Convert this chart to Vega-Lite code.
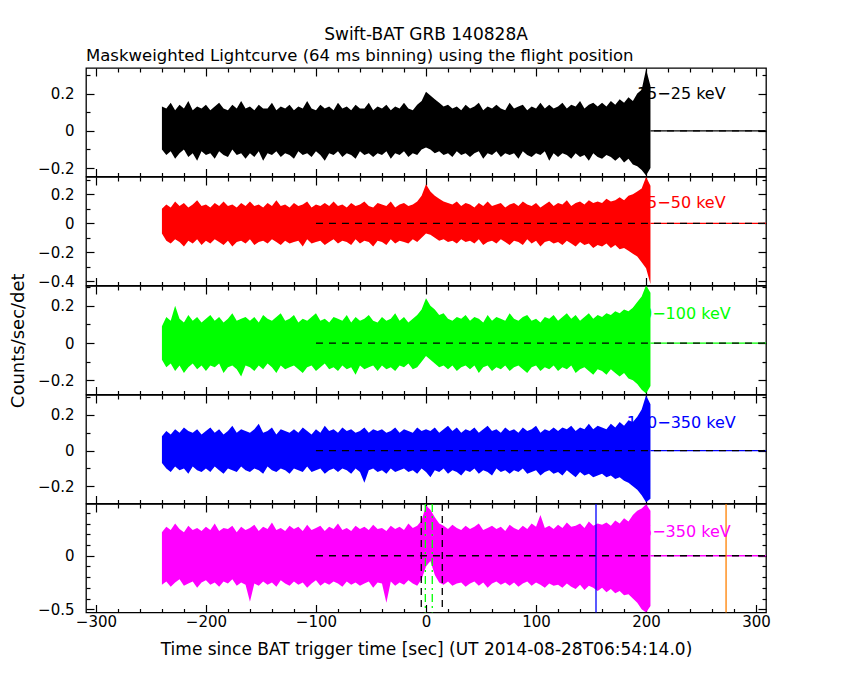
{
  "$schema": "https://vega.github.io/schema/vega-lite/v6.json",
  "background": "white",
  "padding": {"left": 8, "top": 26, "right": 10, "bottom": 10},
  "title": {"text": "Swift-BAT GRB 140828A", "anchor": "middle", "frame": "group", "offset": 3, "fontSize": 17},
  "config": {
    "font": "DejaVu Sans",
    "view": {"stroke": "black", "strokeWidth": 1.3},
    "axis": {"domain": false, "grid": false, "tickColor": "black", "tickWidth": 1.2, "labelColor": "black", "labelFont": "DejaVu Sans", "labelFontSize": 15, "labelFlush": false, "labelOverlap": false, "labelPadding": 20, "titleColor": "black", "titleFont": "DejaVu Sans", "titleFontSize": 18, "titleFontWeight": "normal", "titlePadding": 10},
    "axisX": {"labelPadding": 10},
    "title": {"font": "DejaVu Sans", "fontSize": 16.5, "fontWeight": "normal", "color": "black"},
    "text": {"font": "DejaVu Sans"}
  },
  "datasets": {
    "lc": [
      {"t":-240,"h1":0.13,"l1":-0.1,"h2":0.1,"l2":-0.07,"h3":0.09,"l3":-0.09,"h4":0.08,"l4":-0.07,"h5":0.22,"l5":-0.27},
      {"t":-236,"h1":0.12,"l1":-0.13,"h2":0.13,"l2":-0.12,"h3":0.14,"l3":-0.13,"h4":0.11,"l4":-0.1,"h5":0.27,"l5":-0.24},
      {"t":-232,"h1":0.15,"l1":-0.11,"h2":0.11,"l2":-0.14,"h3":0.12,"l3":-0.11,"h4":0.09,"l4":-0.12,"h5":0.24,"l5":-0.29},
      {"t":-228,"h1":0.11,"l1":-0.15,"h2":0.15,"l2":-0.11,"h3":0.2,"l3":-0.15,"h4":0.12,"l4":-0.09,"h5":0.3,"l5":-0.25},
      {"t":-224,"h1":0.14,"l1":-0.12,"h2":0.12,"l2":-0.13,"h3":0.13,"l3":-0.12,"h4":0.1,"l4":-0.11,"h5":0.25,"l5":-0.22},
      {"t":-220,"h1":0.12,"l1":-0.1,"h2":0.14,"l2":-0.16,"h3":0.11,"l3":-0.16,"h4":0.13,"l4":-0.1,"h5":0.22,"l5":-0.28},
      {"t":-216,"h1":0.16,"l1":-0.14,"h2":0.11,"l2":-0.12,"h3":0.15,"l3":-0.13,"h4":0.11,"l4":-0.13,"h5":0.28,"l5":-0.26},
      {"t":-212,"h1":0.11,"l1":-0.12,"h2":0.13,"l2":-0.14,"h3":0.12,"l3":-0.11,"h4":0.1,"l4":-0.09,"h5":0.24,"l5":-0.24},
      {"t":-208,"h1":0.13,"l1":-0.16,"h2":0.16,"l2":-0.11,"h3":0.14,"l3":-0.14,"h4":0.12,"l4":-0.11,"h5":0.26,"l5":-0.3},
      {"t":-204,"h1":0.12,"l1":-0.11,"h2":0.12,"l2":-0.15,"h3":0.11,"l3":-0.12,"h4":0.09,"l4":-0.12,"h5":0.23,"l5":-0.25},
      {"t":-200,"h1":0.14,"l1":-0.13,"h2":0.13,"l2":-0.12,"h3":0.13,"l3":-0.15,"h4":0.11,"l4":-0.1,"h5":0.27,"l5":-0.23},
      {"t":-196,"h1":0.11,"l1":-0.12,"h2":0.11,"l2":-0.14,"h3":0.15,"l3":-0.12,"h4":0.13,"l4":-0.12,"h5":0.24,"l5":-0.27},
      {"t":-192,"h1":0.13,"l1":-0.15,"h2":0.14,"l2":-0.11,"h3":0.12,"l3":-0.13,"h4":0.1,"l4":-0.09,"h5":0.3,"l5":-0.25},
      {"t":-188,"h1":0.15,"l1":-0.11,"h2":0.12,"l2":-0.13,"h3":0.14,"l3":-0.11,"h4":0.12,"l4":-0.11,"h5":0.23,"l5":-0.29},
      {"t":-184,"h1":0.12,"l1":-0.13,"h2":0.15,"l2":-0.15,"h3":0.11,"l3":-0.16,"h4":0.09,"l4":-0.13,"h5":0.26,"l5":-0.24},
      {"t":-180,"h1":0.11,"l1":-0.14,"h2":0.12,"l2":-0.12,"h3":0.13,"l3":-0.13,"h4":0.11,"l4":-0.1,"h5":0.25,"l5":-0.26},
      {"t":-176,"h1":0.14,"l1":-0.1,"h2":0.13,"l2":-0.16,"h3":0.16,"l3":-0.12,"h4":0.14,"l4":-0.11,"h5":0.28,"l5":-0.22},
      {"t":-172,"h1":0.12,"l1":-0.13,"h2":0.11,"l2":-0.13,"h3":0.12,"l3":-0.14,"h4":0.1,"l4":-0.12,"h5":0.22,"l5":-0.28},
      {"t":-168,"h1":0.16,"l1":-0.12,"h2":0.14,"l2":-0.12,"h3":0.13,"l3":-0.18,"h4":0.12,"l4":-0.09,"h5":0.27,"l5":-0.25},
      {"t":-164,"h1":0.12,"l1":-0.15,"h2":0.12,"l2":-0.14,"h3":0.14,"l3":-0.12,"h4":0.11,"l4":-0.11,"h5":0.24,"l5":-0.27},
      {"t":-160,"h1":0.13,"l1":-0.12,"h2":0.15,"l2":-0.11,"h3":0.12,"l3":-0.13,"h4":0.1,"l4":-0.12,"h5":0.26,"l5":-0.43},
      {"t":-156,"h1":0.11,"l1":-0.14,"h2":0.12,"l2":-0.15,"h3":0.14,"l3":-0.15,"h4":0.12,"l4":-0.1,"h5":0.29,"l5":-0.26},
      {"t":-152,"h1":0.14,"l1":-0.11,"h2":0.13,"l2":-0.13,"h3":0.11,"l3":-0.12,"h4":0.15,"l4":-0.11,"h5":0.23,"l5":-0.28},
      {"t":-148,"h1":0.12,"l1":-0.16,"h2":0.11,"l2":-0.12,"h3":0.15,"l3":-0.14,"h4":0.1,"l4":-0.13,"h5":0.27,"l5":-0.24},
      {"t":-144,"h1":0.12,"l1":-0.12,"h2":0.14,"l2":-0.14,"h3":0.13,"l3":-0.11,"h4":0.11,"l4":-0.09,"h5":0.25,"l5":-0.27},
      {"t":-140,"h1":0.15,"l1":-0.13,"h2":0.12,"l2":-0.11,"h3":0.12,"l3":-0.13,"h4":0.13,"l4":-0.11,"h5":0.31,"l5":-0.25},
      {"t":-136,"h1":0.11,"l1":-0.11,"h2":0.16,"l2":-0.13,"h3":0.14,"l3":-0.16,"h4":0.09,"l4":-0.12,"h5":0.24,"l5":-0.29},
      {"t":-132,"h1":0.13,"l1":-0.14,"h2":0.12,"l2":-0.15,"h3":0.16,"l3":-0.12,"h4":0.12,"l4":-0.1,"h5":0.26,"l5":-0.23},
      {"t":-128,"h1":0.12,"l1":-0.12,"h2":0.13,"l2":-0.12,"h3":0.12,"l3":-0.14,"h4":0.11,"l4":-0.11,"h5":0.23,"l5":-0.26},
      {"t":-124,"h1":0.14,"l1":-0.13,"h2":0.11,"l2":-0.14,"h3":0.13,"l3":-0.13,"h4":0.1,"l4":-0.13,"h5":0.28,"l5":-0.28},
      {"t":-120,"h1":0.11,"l1":-0.15,"h2":0.14,"l2":-0.13,"h3":0.15,"l3":-0.12,"h4":0.12,"l4":-0.1,"h5":0.25,"l5":-0.24},
      {"t":-116,"h1":0.13,"l1":-0.11,"h2":0.12,"l2":-0.12,"h3":0.11,"l3":-0.14,"h4":0.1,"l4":-0.11,"h5":0.27,"l5":-0.27},
      {"t":-112,"h1":0.12,"l1":-0.13,"h2":0.13,"l2":-0.16,"h3":0.13,"l3":-0.16,"h4":0.13,"l4":-0.12,"h5":0.23,"l5":-0.25},
      {"t":-108,"h1":0.16,"l1":-0.12,"h2":0.15,"l2":-0.11,"h3":0.12,"l3":-0.13,"h4":0.11,"l4":-0.09,"h5":0.29,"l5":-0.3},
      {"t":-104,"h1":0.12,"l1":-0.14,"h2":0.11,"l2":-0.14,"h3":0.14,"l3":-0.12,"h4":0.09,"l4":-0.12,"h5":0.24,"l5":-0.26},
      {"t":-100,"h1":0.11,"l1":-0.11,"h2":0.13,"l2":-0.13,"h3":0.16,"l3":-0.15,"h4":0.12,"l4":-0.11,"h5":0.26,"l5":-0.23},
      {"t":-96,"h1":0.14,"l1":-0.13,"h2":0.12,"l2":-0.12,"h3":0.12,"l3":-0.13,"h4":0.1,"l4":-0.1,"h5":0.28,"l5":-0.28},
      {"t":-92,"h1":0.12,"l1":-0.16,"h2":0.14,"l2":-0.15,"h3":0.13,"l3":-0.11,"h4":0.14,"l4":-0.13,"h5":0.23,"l5":-0.25},
      {"t":-88,"h1":0.13,"l1":-0.12,"h2":0.12,"l2":-0.13,"h3":0.11,"l3":-0.14,"h4":0.11,"l4":-0.11,"h5":0.27,"l5":-0.27},
      {"t":-84,"h1":0.11,"l1":-0.13,"h2":0.15,"l2":-0.11,"h3":0.14,"l3":-0.13,"h4":0.12,"l4":-0.1,"h5":0.25,"l5":-0.24},
      {"t":-80,"h1":0.15,"l1":-0.11,"h2":0.12,"l2":-0.14,"h3":0.13,"l3":-0.15,"h4":0.1,"l4":-0.12,"h5":0.3,"l5":-0.26},
      {"t":-76,"h1":0.12,"l1":-0.14,"h2":0.13,"l2":-0.12,"h3":0.12,"l3":-0.12,"h4":0.13,"l4":-0.1,"h5":0.24,"l5":-0.29},
      {"t":-72,"h1":0.13,"l1":-0.12,"h2":0.11,"l2":-0.13,"h3":0.15,"l3":-0.14,"h4":0.11,"l4":-0.11,"h5":0.26,"l5":-0.24},
      {"t":-68,"h1":0.11,"l1":-0.13,"h2":0.14,"l2":-0.15,"h3":0.11,"l3":-0.13,"h4":0.12,"l4":-0.13,"h5":0.23,"l5":-0.27},
      {"t":-64,"h1":0.14,"l1":-0.15,"h2":0.12,"l2":-0.11,"h3":0.14,"l3":-0.17,"h4":0.1,"l4":-0.1,"h5":0.28,"l5":-0.25},
      {"t":-60,"h1":0.12,"l1":-0.11,"h2":0.13,"l2":-0.14,"h3":0.12,"l3":-0.12,"h4":0.11,"l4":-0.12,"h5":0.25,"l5":-0.28},
      {"t":-56,"h1":0.12,"l1":-0.13,"h2":0.15,"l2":-0.12,"h3":0.13,"l3":-0.14,"h4":0.13,"l4":-0.18,"h5":0.27,"l5":-0.26},
      {"t":-52,"h1":0.15,"l1":-0.12,"h2":0.12,"l2":-0.13,"h3":0.15,"l3":-0.13,"h4":0.1,"l4":-0.11,"h5":0.24,"l5":-0.24},
      {"t":-48,"h1":0.11,"l1":-0.14,"h2":0.11,"l2":-0.16,"h3":0.12,"l3":-0.12,"h4":0.12,"l4":-0.1,"h5":0.29,"l5":-0.3},
      {"t":-44,"h1":0.13,"l1":-0.12,"h2":0.14,"l2":-0.12,"h3":0.11,"l3":-0.15,"h4":0.11,"l4":-0.12,"h5":0.25,"l5":-0.25},
      {"t":-40,"h1":0.12,"l1":-0.13,"h2":0.13,"l2":-0.13,"h3":0.14,"l3":-0.12,"h4":0.12,"l4":-0.11,"h5":0.26,"l5":-0.26},
      {"t":-36,"h1":0.14,"l1":-0.11,"h2":0.12,"l2":-0.15,"h3":0.12,"l3":-0.14,"h4":0.1,"l4":-0.13,"h5":0.23,"l5":-0.44},
      {"t":-32,"h1":0.11,"l1":-0.15,"h2":0.15,"l2":-0.11,"h3":0.13,"l3":-0.13,"h4":0.11,"l4":-0.1,"h5":0.28,"l5":-0.24},
      {"t":-28,"h1":0.13,"l1":-0.12,"h2":0.11,"l2":-0.14,"h3":0.16,"l3":-0.15,"h4":0.13,"l4":-0.12,"h5":0.25,"l5":-0.28},
      {"t":-24,"h1":0.12,"l1":-0.13,"h2":0.13,"l2":-0.12,"h3":0.12,"l3":-0.12,"h4":0.1,"l4":-0.11,"h5":0.27,"l5":-0.25},
      {"t":-20,"h1":0.15,"l1":-0.11,"h2":0.14,"l2":-0.13,"h3":0.14,"l3":-0.13,"h4":0.12,"l4":-0.1,"h5":0.24,"l5":-0.27},
      {"t":-16,"h1":0.12,"l1":-0.14,"h2":0.12,"l2":-0.14,"h3":0.11,"l3":-0.11,"h4":0.11,"l4":-0.12,"h5":0.3,"l5":-0.23},
      {"t":-12,"h1":0.11,"l1":-0.12,"h2":0.13,"l2":-0.11,"h3":0.13,"l3":-0.14,"h4":0.1,"l4":-0.11,"h5":0.26,"l5":-0.26},
      {"t":-8,"h1":0.14,"l1":-0.13,"h2":0.15,"l2":-0.13,"h3":0.15,"l3":-0.13,"h4":0.13,"l4":-0.13,"h5":0.28,"l5":-0.28},
      {"t":-4,"h1":0.16,"l1":-0.1,"h2":0.19,"l2":-0.1,"h3":0.18,"l3":-0.1,"h4":0.11,"l4":-0.1,"h5":0.33,"l5":-0.22},
      {"t":0,"h1":0.21,"l1":-0.09,"h2":0.27,"l2":-0.07,"h3":0.24,"l3":-0.07,"h4":0.12,"l4":-0.12,"h5":0.47,"l5":-0.1},
      {"t":4,"h1":0.19,"l1":-0.1,"h2":0.22,"l2":-0.08,"h3":0.2,"l3":-0.09,"h4":0.11,"l4":-0.15,"h5":0.43,"l5":-0.05},
      {"t":8,"h1":0.17,"l1":-0.12,"h2":0.19,"l2":-0.1,"h3":0.18,"l3":-0.11,"h4":0.13,"l4":-0.11,"h5":0.36,"l5":-0.18},
      {"t":12,"h1":0.15,"l1":-0.11,"h2":0.17,"l2":-0.12,"h3":0.15,"l3":-0.13,"h4":0.1,"l4":-0.12,"h5":0.3,"l5":-0.25},
      {"t":16,"h1":0.13,"l1":-0.13,"h2":0.15,"l2":-0.11,"h3":0.16,"l3":-0.12,"h4":0.12,"l4":-0.1,"h5":0.28,"l5":-0.27},
      {"t":20,"h1":0.14,"l1":-0.12,"h2":0.14,"l2":-0.13,"h3":0.13,"l3":-0.14,"h4":0.14,"l4":-0.13,"h5":0.25,"l5":-0.24},
      {"t":24,"h1":0.12,"l1":-0.14,"h2":0.13,"l2":-0.12,"h3":0.12,"l3":-0.12,"h4":0.11,"l4":-0.11,"h5":0.29,"l5":-0.28},
      {"t":28,"h1":0.13,"l1":-0.11,"h2":0.15,"l2":-0.14,"h3":0.14,"l3":-0.15,"h4":0.13,"l4":-0.12,"h5":0.26,"l5":-0.26},
      {"t":32,"h1":0.11,"l1":-0.13,"h2":0.12,"l2":-0.11,"h3":0.13,"l3":-0.13,"h4":0.1,"l4":-0.14,"h5":0.24,"l5":-0.25},
      {"t":36,"h1":0.14,"l1":-0.12,"h2":0.14,"l2":-0.13,"h3":0.15,"l3":-0.12,"h4":0.12,"l4":-0.11,"h5":0.28,"l5":-0.29},
      {"t":40,"h1":0.12,"l1":-0.14,"h2":0.13,"l2":-0.12,"h3":0.12,"l3":-0.14,"h4":0.11,"l4":-0.12,"h5":0.25,"l5":-0.26},
      {"t":44,"h1":0.13,"l1":-0.12,"h2":0.11,"l2":-0.14,"h3":0.14,"l3":-0.12,"h4":0.13,"l4":-0.1,"h5":0.27,"l5":-0.24},
      {"t":48,"h1":0.15,"l1":-0.11,"h2":0.14,"l2":-0.11,"h3":0.13,"l3":-0.16,"h4":0.1,"l4":-0.13,"h5":0.3,"l5":-0.28},
      {"t":52,"h1":0.11,"l1":-0.15,"h2":0.12,"l2":-0.15,"h3":0.11,"l3":-0.13,"h4":0.12,"l4":-0.11,"h5":0.24,"l5":-0.25},
      {"t":56,"h1":0.13,"l1":-0.12,"h2":0.15,"l2":-0.13,"h3":0.15,"l3":-0.12,"h4":0.14,"l4":-0.12,"h5":0.26,"l5":-0.3},
      {"t":60,"h1":0.12,"l1":-0.13,"h2":0.12,"l2":-0.12,"h3":0.12,"l3":-0.15,"h4":0.11,"l4":-0.14,"h5":0.28,"l5":-0.26},
      {"t":64,"h1":0.14,"l1":-0.11,"h2":0.13,"l2":-0.14,"h3":0.14,"l3":-0.13,"h4":0.12,"l4":-0.1,"h5":0.25,"l5":-0.24},
      {"t":68,"h1":0.12,"l1":-0.14,"h2":0.14,"l2":-0.11,"h3":0.13,"l3":-0.14,"h4":0.1,"l4":-0.12,"h5":0.27,"l5":-0.27},
      {"t":72,"h1":0.11,"l1":-0.12,"h2":0.11,"l2":-0.13,"h3":0.12,"l3":-0.12,"h4":0.13,"l4":-0.11,"h5":0.23,"l5":-0.25},
      {"t":76,"h1":0.15,"l1":-0.13,"h2":0.13,"l2":-0.15,"h3":0.16,"l3":-0.15,"h4":0.11,"l4":-0.13,"h5":0.29,"l5":-0.28},
      {"t":80,"h1":0.12,"l1":-0.12,"h2":0.14,"l2":-0.12,"h3":0.13,"l3":-0.13,"h4":0.12,"l4":-0.11,"h5":0.26,"l5":-0.25},
      {"t":84,"h1":0.13,"l1":-0.15,"h2":0.12,"l2":-0.13,"h3":0.12,"l3":-0.12,"h4":0.1,"l4":-0.12,"h5":0.24,"l5":-0.29},
      {"t":88,"h1":0.14,"l1":-0.11,"h2":0.15,"l2":-0.15,"h3":0.14,"l3":-0.14,"h4":0.13,"l4":-0.1,"h5":0.28,"l5":-0.26},
      {"t":92,"h1":0.11,"l1":-0.13,"h2":0.13,"l2":-0.11,"h3":0.15,"l3":-0.16,"h4":0.11,"l4":-0.13,"h5":0.25,"l5":-0.24},
      {"t":96,"h1":0.13,"l1":-0.14,"h2":0.12,"l2":-0.14,"h3":0.12,"l3":-0.13,"h4":0.12,"l4":-0.12,"h5":0.3,"l5":-0.28},
      {"t":100,"h1":0.12,"l1":-0.12,"h2":0.14,"l2":-0.12,"h3":0.13,"l3":-0.12,"h4":0.14,"l4":-0.11,"h5":0.27,"l5":-0.25},
      {"t":104,"h1":0.15,"l1":-0.13,"h2":0.11,"l2":-0.16,"h3":0.11,"l3":-0.15,"h4":0.1,"l4":-0.14,"h5":0.38,"l5":-0.27},
      {"t":108,"h1":0.12,"l1":-0.11,"h2":0.13,"l2":-0.13,"h3":0.14,"l3":-0.13,"h4":0.12,"l4":-0.12,"h5":0.26,"l5":-0.3},
      {"t":112,"h1":0.14,"l1":-0.16,"h2":0.15,"l2":-0.12,"h3":0.13,"l3":-0.14,"h4":0.11,"l4":-0.11,"h5":0.28,"l5":-0.26},
      {"t":116,"h1":0.12,"l1":-0.12,"h2":0.12,"l2":-0.14,"h3":0.15,"l3":-0.12,"h4":0.13,"l4":-0.13,"h5":0.25,"l5":-0.28},
      {"t":120,"h1":0.13,"l1":-0.14,"h2":0.14,"l2":-0.13,"h3":0.12,"l3":-0.15,"h4":0.11,"l4":-0.12,"h5":0.29,"l5":-0.27},
      {"t":124,"h1":0.15,"l1":-0.12,"h2":0.13,"l2":-0.15,"h3":0.14,"l3":-0.13,"h4":0.13,"l4":-0.14,"h5":0.26,"l5":-0.3},
      {"t":128,"h1":0.12,"l1":-0.13,"h2":0.16,"l2":-0.12,"h3":0.16,"l3":-0.14,"h4":0.12,"l4":-0.11,"h5":0.31,"l5":-0.26},
      {"t":132,"h1":0.14,"l1":-0.15,"h2":0.12,"l2":-0.14,"h3":0.13,"l3":-0.12,"h4":0.14,"l4":-0.13,"h5":0.27,"l5":-0.29},
      {"t":136,"h1":0.13,"l1":-0.12,"h2":0.14,"l2":-0.16,"h3":0.15,"l3":-0.16,"h4":0.11,"l4":-0.15,"h5":0.28,"l5":-0.31},
      {"t":140,"h1":0.16,"l1":-0.14,"h2":0.15,"l2":-0.13,"h3":0.12,"l3":-0.14,"h4":0.13,"l4":-0.12,"h5":0.3,"l5":-0.27},
      {"t":144,"h1":0.12,"l1":-0.13,"h2":0.13,"l2":-0.15,"h3":0.14,"l3":-0.13,"h4":0.12,"l4":-0.14,"h5":0.26,"l5":-0.32},
      {"t":148,"h1":0.14,"l1":-0.16,"h2":0.16,"l2":-0.14,"h3":0.16,"l3":-0.15,"h4":0.15,"l4":-0.13,"h5":0.32,"l5":-0.28},
      {"t":152,"h1":0.15,"l1":-0.12,"h2":0.14,"l2":-0.17,"h3":0.13,"l3":-0.17,"h4":0.12,"l4":-0.15,"h5":0.28,"l5":-0.3},
      {"t":156,"h1":0.13,"l1":-0.14,"h2":0.15,"l2":-0.15,"h3":0.15,"l3":-0.14,"h4":0.14,"l4":-0.14,"h5":0.3,"l5":-0.33},
      {"t":160,"h1":0.15,"l1":-0.15,"h2":0.14,"l2":-0.16,"h3":0.14,"l3":-0.15,"h4":0.13,"l4":-0.13,"h5":0.29,"l5":-0.3},
      {"t":164,"h1":0.13,"l1":-0.13,"h2":0.17,"l2":-0.14,"h3":0.16,"l3":-0.17,"h4":0.12,"l4":-0.15,"h5":0.31,"l5":-0.34},
      {"t":168,"h1":0.16,"l1":-0.14,"h2":0.15,"l2":-0.17,"h3":0.15,"l3":-0.14,"h4":0.15,"l4":-0.14,"h5":0.28,"l5":-0.31},
      {"t":172,"h1":0.14,"l1":-0.16,"h2":0.16,"l2":-0.15,"h3":0.17,"l3":-0.16,"h4":0.13,"l4":-0.16,"h5":0.33,"l5":-0.35},
      {"t":176,"h1":0.17,"l1":-0.14,"h2":0.18,"l2":-0.18,"h3":0.16,"l3":-0.18,"h4":0.16,"l4":-0.15,"h5":0.3,"l5":-0.33},
      {"t":180,"h1":0.15,"l1":-0.17,"h2":0.16,"l2":-0.17,"h3":0.18,"l3":-0.16,"h4":0.14,"l4":-0.17,"h5":0.35,"l5":-0.37},
      {"t":184,"h1":0.18,"l1":-0.15,"h2":0.19,"l2":-0.19,"h3":0.17,"l3":-0.19,"h4":0.17,"l4":-0.18,"h5":0.32,"l5":-0.36},
      {"t":188,"h1":0.16,"l1":-0.18,"h2":0.2,"l2":-0.21,"h3":0.19,"l3":-0.2,"h4":0.16,"l4":-0.2,"h5":0.38,"l5":-0.4},
      {"t":192,"h1":0.2,"l1":-0.19,"h2":0.22,"l2":-0.23,"h3":0.22,"l3":-0.22,"h4":0.19,"l4":-0.22,"h5":0.42,"l5":-0.44},
      {"t":196,"h1":0.22,"l1":-0.21,"h2":0.24,"l2":-0.27,"h3":0.25,"l3":-0.25,"h4":0.23,"l4":-0.25,"h5":0.44,"l5":-0.5},
      {"t":200,"h1":0.33,"l1":-0.24,"h2":0.32,"l2":-0.31,"h3":0.31,"l3":-0.27,"h4":0.31,"l4":-0.29,"h5":0.48,"l5":-0.53},
      {"t":204,"h1":0.24,"l1":-0.2,"h2":0.26,"l2":-0.42,"h3":0.27,"l3":-0.23,"h4":0.26,"l4":-0.27,"h5":0.42,"l5":-0.47}
    ]
  },
  "spacing": 0,
  "bounds": "flush",
  "vconcat": [
    {
      "width": 680,
      "height": 108.5,
      "title": {"text": "Maskweighted Lightcurve (64 ms binning) using the flight position", "anchor": "start", "frame": "group", "offset": 3},
      "layer": [
        {
          "data": {"name": "lc"},
          "mark": {"type": "area", "color": "black", "orient": "vertical", "clip": true},
          "encoding": {
            "x": {"field": "t", "type": "quantitative", "scale": {"domain": [-309, 309], "nice": false, "zero": false},
              "axis": {"orient": "bottom", "values": [-300,-280,-260,-240,-220,-200,-180,-160,-140,-120,-100,-80,-60,-40,-20,0,20,40,60,80,100,120,140,160,180,200,220,240,260,280,300], "labels": false, "title": null, "tickSize": {"condition": {"test": "datum.value % 100 === 0", "value": -8}, "value": -4}}},
            "y": {"field": "h1", "type": "quantitative", "scale": {"domain": [-0.245, 0.337], "nice": false, "zero": false},
              "axis": {"orient": "left", "values": [-0.2,-0.1,0,0.1,0.2,0.3], "title": null, "labelExpr": "abs(datum.value*5-round(datum.value*5)) < 0.01 ? (abs(datum.value) < 0.001 ? '0' : format(datum.value, '.1f')) : ''", "tickSize": {"condition": {"test": "abs(datum.value*5-round(datum.value*5)) < 0.01", "value": -8}, "value": -4}}},
            "y2": {"field": "l1"}
          }
        },
        {
          "data": {"values": [{}]},
          "mark": {"type": "rule", "color": "black", "strokeWidth": 1.3},
          "encoding": {"x": {"datum": 204, "type": "quantitative", "axis": null}, "x2": {"datum": 309}, "y": {"datum": 0, "type": "quantitative", "axis": null}}
        },
        {
          "data": {"values": [{}]},
          "mark": {"type": "rule", "color": "black", "strokeWidth": 1.3, "strokeDash": [7, 6]},
          "encoding": {
            "x": {"datum": -100, "type": "quantitative",
              "axis": {"orient": "top", "values": [-300,-280,-260,-240,-220,-200,-180,-160,-140,-120,-100,-80,-60,-40,-20,0,20,40,60,80,100,120,140,160,180,200,220,240,260,280,300], "labels": false, "title": null, "tickSize": {"condition": {"test": "datum.value % 100 === 0", "value": -8}, "value": -4}}},
            "x2": {"datum": 309},
            "y": {"datum": 0, "type": "quantitative",
              "axis": {"orient": "right", "values": [-0.2,-0.1,0,0.1,0.2,0.3], "labels": false, "title": null, "tickSize": {"condition": {"test": "abs(datum.value*5-round(datum.value*5)) < 0.01", "value": -8}, "value": -4}}}
          }
        },
        {
          "data": {"values": [{}]},
          "mark": {"type": "text", "color": "black", "fontSize": 16, "align": "center", "baseline": "middle"},
          "encoding": {"x": {"datum": 232, "type": "quantitative", "axis": null}, "y": {"datum": 0.2, "type": "quantitative", "axis": null}, "text": {"value": "15−25 keV"}}
        }
      ]
    },
    {
      "width": 680,
      "height": 108.5,
      "layer": [
        {
          "data": {"name": "lc"},
          "mark": {"type": "area", "color": "#ff0000", "orient": "vertical", "clip": true},
          "encoding": {
            "x": {"field": "t", "type": "quantitative", "scale": {"domain": [-309, 309], "nice": false, "zero": false},
              "axis": {"orient": "bottom", "values": [-300,-280,-260,-240,-220,-200,-180,-160,-140,-120,-100,-80,-60,-40,-20,0,20,40,60,80,100,120,140,160,180,200,220,240,260,280,300], "labels": false, "title": null, "tickSize": {"condition": {"test": "datum.value % 100 === 0", "value": -8}, "value": -4}}},
            "y": {"field": "h2", "type": "quantitative", "scale": {"domain": [-0.43, 0.32], "nice": false, "zero": false},
              "axis": {"orient": "left", "values": [-0.4,-0.3,-0.2,-0.1,0,0.1,0.2,0.3], "title": null, "labelExpr": "abs(datum.value*5-round(datum.value*5)) < 0.01 ? (abs(datum.value) < 0.001 ? '0' : format(datum.value, '.1f')) : ''", "tickSize": {"condition": {"test": "abs(datum.value*5-round(datum.value*5)) < 0.01", "value": -8}, "value": -4}}},
            "y2": {"field": "l2"}
          }
        },
        {
          "data": {"values": [{}]},
          "mark": {"type": "rule", "color": "#ff0000", "strokeWidth": 1.3},
          "encoding": {"x": {"datum": 204, "type": "quantitative", "axis": null}, "x2": {"datum": 309}, "y": {"datum": 0, "type": "quantitative", "axis": null}}
        },
        {
          "data": {"values": [{}]},
          "mark": {"type": "rule", "color": "black", "strokeWidth": 1.3, "strokeDash": [7, 6]},
          "encoding": {
            "x": {"datum": -100, "type": "quantitative",
              "axis": {"orient": "top", "values": [-300,-280,-260,-240,-220,-200,-180,-160,-140,-120,-100,-80,-60,-40,-20,0,20,40,60,80,100,120,140,160,180,200,220,240,260,280,300], "labels": false, "title": null, "tickSize": {"condition": {"test": "datum.value % 100 === 0", "value": -8}, "value": -4}}},
            "x2": {"datum": 309},
            "y": {"datum": 0, "type": "quantitative",
              "axis": {"orient": "right", "values": [-0.4,-0.3,-0.2,-0.1,0,0.1,0.2,0.3], "labels": false, "title": null, "tickSize": {"condition": {"test": "abs(datum.value*5-round(datum.value*5)) < 0.01", "value": -8}, "value": -4}}}
          }
        },
        {
          "data": {"values": [{}]},
          "mark": {"type": "text", "color": "#ff0000", "fontSize": 16, "align": "center", "baseline": "middle"},
          "encoding": {"x": {"datum": 232, "type": "quantitative", "axis": null}, "y": {"datum": 0.14, "type": "quantitative", "axis": null}, "text": {"value": "25−50 keV"}}
        }
      ]
    },
    {
      "width": 680,
      "height": 108.5,
      "layer": [
        {
          "data": {"name": "lc"},
          "mark": {"type": "area", "color": "#00ff00", "orient": "vertical", "clip": true},
          "encoding": {
            "x": {"field": "t", "type": "quantitative", "scale": {"domain": [-309, 309], "nice": false, "zero": false},
              "axis": {"orient": "bottom", "values": [-300,-280,-260,-240,-220,-200,-180,-160,-140,-120,-100,-80,-60,-40,-20,0,20,40,60,80,100,120,140,160,180,200,220,240,260,280,300], "labels": false, "title": null, "tickSize": {"condition": {"test": "datum.value % 100 === 0", "value": -8}, "value": -4}}},
            "y": {"field": "h3", "type": "quantitative", "scale": {"domain": [-0.276, 0.306], "nice": false, "zero": false},
              "axis": {"orient": "left", "values": [-0.2,-0.1,0,0.1,0.2,0.3], "title": "Counts/sec/det", "labelExpr": "abs(datum.value*5-round(datum.value*5)) < 0.01 ? (abs(datum.value) < 0.001 ? '0' : format(datum.value, '.1f')) : ''", "tickSize": {"condition": {"test": "abs(datum.value*5-round(datum.value*5)) < 0.01", "value": -8}, "value": -4}}},
            "y2": {"field": "l3"}
          }
        },
        {
          "data": {"values": [{}]},
          "mark": {"type": "rule", "color": "#00ff00", "strokeWidth": 1.3},
          "encoding": {"x": {"datum": 204, "type": "quantitative", "axis": null}, "x2": {"datum": 309}, "y": {"datum": 0, "type": "quantitative", "axis": null}}
        },
        {
          "data": {"values": [{}]},
          "mark": {"type": "rule", "color": "black", "strokeWidth": 1.3, "strokeDash": [7, 6]},
          "encoding": {
            "x": {"datum": -100, "type": "quantitative",
              "axis": {"orient": "top", "values": [-300,-280,-260,-240,-220,-200,-180,-160,-140,-120,-100,-80,-60,-40,-20,0,20,40,60,80,100,120,140,160,180,200,220,240,260,280,300], "labels": false, "title": null, "tickSize": {"condition": {"test": "datum.value % 100 === 0", "value": -8}, "value": -4}}},
            "x2": {"datum": 309},
            "y": {"datum": 0, "type": "quantitative",
              "axis": {"orient": "right", "values": [-0.2,-0.1,0,0.1,0.2,0.3], "labels": false, "title": null, "tickSize": {"condition": {"test": "abs(datum.value*5-round(datum.value*5)) < 0.01", "value": -8}, "value": -4}}}
          }
        },
        {
          "data": {"values": [{}]},
          "mark": {"type": "text", "color": "#00ff00", "fontSize": 16, "align": "center", "baseline": "middle"},
          "encoding": {"x": {"datum": 232, "type": "quantitative", "axis": null}, "y": {"datum": 0.157, "type": "quantitative", "axis": null}, "text": {"value": "50−100 keV"}}
        }
      ]
    },
    {
      "width": 680,
      "height": 108.5,
      "layer": [
        {
          "data": {"name": "lc"},
          "mark": {"type": "area", "color": "#0000ff", "orient": "vertical", "clip": true},
          "encoding": {
            "x": {"field": "t", "type": "quantitative", "scale": {"domain": [-309, 309], "nice": false, "zero": false},
              "axis": {"orient": "bottom", "values": [-300,-280,-260,-240,-220,-200,-180,-160,-140,-120,-100,-80,-60,-40,-20,0,20,40,60,80,100,120,140,160,180,200,220,240,260,280,300], "labels": false, "title": null, "tickSize": {"condition": {"test": "datum.value % 100 === 0", "value": -8}, "value": -4}}},
            "y": {"field": "h4", "type": "quantitative", "scale": {"domain": [-0.297, 0.312], "nice": false, "zero": false},
              "axis": {"orient": "left", "values": [-0.2,-0.1,0,0.1,0.2,0.3], "title": null, "labelExpr": "abs(datum.value*5-round(datum.value*5)) < 0.01 ? (abs(datum.value) < 0.001 ? '0' : format(datum.value, '.1f')) : ''", "tickSize": {"condition": {"test": "abs(datum.value*5-round(datum.value*5)) < 0.01", "value": -8}, "value": -4}}},
            "y2": {"field": "l4"}
          }
        },
        {
          "data": {"values": [{}]},
          "mark": {"type": "rule", "color": "#0000ff", "strokeWidth": 1.3},
          "encoding": {"x": {"datum": 204, "type": "quantitative", "axis": null}, "x2": {"datum": 309}, "y": {"datum": 0, "type": "quantitative", "axis": null}}
        },
        {
          "data": {"values": [{}]},
          "mark": {"type": "rule", "color": "black", "strokeWidth": 1.3, "strokeDash": [7, 6]},
          "encoding": {
            "x": {"datum": -100, "type": "quantitative",
              "axis": {"orient": "top", "values": [-300,-280,-260,-240,-220,-200,-180,-160,-140,-120,-100,-80,-60,-40,-20,0,20,40,60,80,100,120,140,160,180,200,220,240,260,280,300], "labels": false, "title": null, "tickSize": {"condition": {"test": "datum.value % 100 === 0", "value": -8}, "value": -4}}},
            "x2": {"datum": 309},
            "y": {"datum": 0, "type": "quantitative",
              "axis": {"orient": "right", "values": [-0.2,-0.1,0,0.1,0.2,0.3], "labels": false, "title": null, "tickSize": {"condition": {"test": "abs(datum.value*5-round(datum.value*5)) < 0.01", "value": -8}, "value": -4}}}
          }
        },
        {
          "data": {"values": [{}]},
          "mark": {"type": "text", "color": "#0000ff", "fontSize": 16, "align": "center", "baseline": "middle"},
          "encoding": {"x": {"datum": 232, "type": "quantitative", "axis": null}, "y": {"datum": 0.155, "type": "quantitative", "axis": null}, "text": {"value": "100−350 keV"}}
        }
      ]
    },
    {
      "width": 680,
      "height": 108.5,
      "layer": [
        {
          "data": {"name": "lc"},
          "mark": {"type": "area", "color": "#ff00ff", "orient": "vertical", "clip": true},
          "encoding": {
            "x": {"field": "t", "type": "quantitative", "scale": {"domain": [-309, 309], "nice": false, "zero": false},
              "axis": {"orient": "bottom", "values": [-300,-280,-260,-240,-220,-200,-180,-160,-140,-120,-100,-80,-60,-40,-20,0,20,40,60,80,100,120,140,160,180,200,220,240,260,280,300], "labels": true, "labelExpr": "datum.value % 100 === 0 ? format(datum.value, 'd') : ''", "title": "Time since BAT trigger time [sec] (UT 2014-08-28T06:54:14.0)", "titleFontSize": 17, "titlePadding": 8, "tickSize": {"condition": {"test": "datum.value % 100 === 0", "value": -8}, "value": -4}}},
            "y": {"field": "h5", "type": "quantitative", "scale": {"domain": [-0.53, 0.483], "nice": false, "zero": false},
              "axis": {"orient": "left", "values": [-0.5,-0.4,-0.3,-0.2,-0.1,0,0.1,0.2,0.3,0.4], "title": null, "labelExpr": "abs(datum.value*2-round(datum.value*2)) < 0.01 ? (abs(datum.value) < 0.001 ? '0' : format(datum.value, '.1f')) : ''", "tickSize": {"condition": {"test": "abs(datum.value*2-round(datum.value*2)) < 0.01", "value": -8}, "value": -4}}},
            "y2": {"field": "l5"}
          }
        },
        {
          "data": {"values": [{}]},
          "mark": {"type": "rule", "color": "#ff00ff", "strokeWidth": 1.3},
          "encoding": {"x": {"datum": 204, "type": "quantitative", "axis": null}, "x2": {"datum": 309}, "y": {"datum": 0, "type": "quantitative", "axis": null}}
        },
        {
          "data": {"values": [{}]},
          "mark": {"type": "rule", "color": "black", "strokeWidth": 1.3, "strokeDash": [7, 6]},
          "encoding": {
            "x": {"datum": -100, "type": "quantitative",
              "axis": {"orient": "top", "values": [-300,-280,-260,-240,-220,-200,-180,-160,-140,-120,-100,-80,-60,-40,-20,0,20,40,60,80,100,120,140,160,180,200,220,240,260,280,300], "labels": false, "title": null, "tickSize": {"condition": {"test": "datum.value % 100 === 0", "value": -8}, "value": -4}}},
            "x2": {"datum": 309},
            "y": {"datum": 0, "type": "quantitative",
              "axis": {"orient": "right", "values": [-0.5,-0.4,-0.3,-0.2,-0.1,0,0.1,0.2,0.3,0.4], "labels": false, "title": null, "tickSize": {"condition": {"test": "abs(datum.value*2-round(datum.value*2)) < 0.01", "value": -8}, "value": -4}}}
          }
        },
        {
          "data": {"values": [{"t": -4.3}, {"t": 14.8}]},
          "mark": {"type": "rule", "color": "black", "strokeWidth": 1.3, "strokeDash": [7, 5]},
          "encoding": {"x": {"field": "t", "type": "quantitative", "axis": null}}
        },
        {
          "data": {"values": [{"t": -0.6}, {"t": 5.7}]},
          "mark": {"type": "rule", "color": "#00ff00", "strokeWidth": 1.3, "strokeDash": [8, 4, 2, 4]},
          "encoding": {"x": {"field": "t", "type": "quantitative", "axis": null}}
        },
        {
          "data": {"values": [{"t": 154.5}]},
          "mark": {"type": "rule", "color": "#0000ff", "strokeWidth": 1.3},
          "encoding": {"x": {"field": "t", "type": "quantitative", "axis": null}}
        },
        {
          "data": {"values": [{"t": 272.7}]},
          "mark": {"type": "rule", "color": "#ff8000", "strokeWidth": 1.3},
          "encoding": {"x": {"field": "t", "type": "quantitative", "axis": null}}
        },
        {
          "data": {"values": [{}]},
          "mark": {"type": "text", "color": "#ff00ff", "fontSize": 16, "align": "center", "baseline": "middle"},
          "encoding": {"x": {"datum": 232, "type": "quantitative", "axis": null}, "y": {"datum": 0.218, "type": "quantitative", "axis": null}, "text": {"value": "15−350 keV"}}
        }
      ]
    }
  ]
}
